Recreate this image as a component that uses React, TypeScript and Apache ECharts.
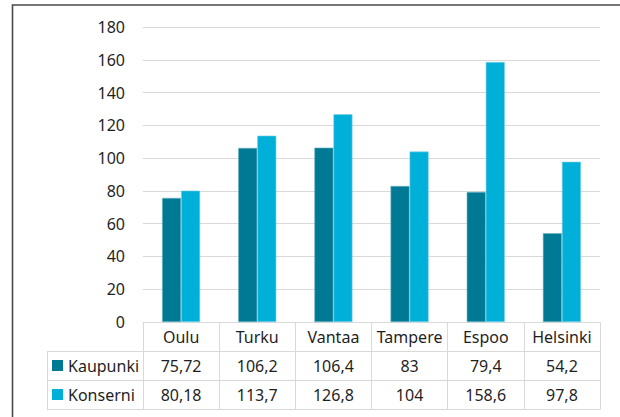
import React, { useEffect, useRef } from "react";
import * as echarts from "echarts";

const categories = ["Oulu", "Turku", "Vantaa", "Tampere", "Espoo", "Helsinki"];
const kaupunki = [75.72, 106.2, 106.4, 83, 79.4, 54.2];
const konserni = [80.18, 113.7, 126.8, 104, 158.6, 97.8];
const seriesNames = ["Kaupunki", "Konserni"];
const yMin = 0;
const yMax = 180;
const yStep = 20;

const fmt = (v: number) => String(v).replace(".", ",");

const FONT = "'Noto Sans', 'Open Sans', sans-serif";
const TEXT = "#1f1f1f";
const LINE = "#d9d9d9";
const DARK = "#007A94";
const LIGHT = "#00B0D8";
const FS = 16;

export default function App() {
  const ref = useRef<HTMLDivElement>(null);
  useEffect(() => {
    if (!ref.current) return;
    const chart = echarts.init(ref.current, undefined, { renderer: "svg" });
    const rowH = 29;
    const tableAxis = (offset: number, labels: string[] | null, showTick: boolean) => ({
      type: "category" as const,
      data: categories,
      position: "bottom" as const,
      offset,
      gridIndex: 0,
      axisLine: { show: true, lineStyle: { color: LINE, width: 1 } },
      axisTick: {
        show: showTick,
        interval: 0,
        alignWithLabel: false,
        length: rowH,
        lineStyle: { color: LINE, width: 1 },
      },
      axisLabel: {
        show: labels !== null,
        interval: 0,
        margin: 14.5,
        verticalAlign: "middle" as const,
        color: TEXT,
        fontSize: FS,
        fontFamily: FONT,
        formatter: (_v: string, i: number) => (labels ? labels[i] : ""),
      },
      splitLine: { show: false },
    });
    chart.setOption({
      animation: false,
      backgroundColor: "#ffffff",
      textStyle: { fontFamily: FONT },
      grid: { left: 143, right: 20, top: 27, bottom: 95, containLabel: false },
      legend: {
        orient: "vertical",
        left: 52,
        top: 356.5,
        padding: 0,
        itemWidth: 11,
        itemHeight: 11,
        itemGap: 11,
        icon: "rect",
        selectedMode: false,
        itemStyle: { borderWidth: 0 },
        textStyle: { color: TEXT, fontSize: FS, fontFamily: FONT, lineHeight: 18 },
        data: seriesNames,
      },
      xAxis: [
        tableAxis(0, categories, true),
        tableAxis(rowH, kaupunki.map(fmt), true),
        tableAxis(rowH * 2, konserni.map(fmt), true),
        tableAxis(rowH * 3, null, false),
      ],
      yAxis: {
        type: "value",
        min: yMin,
        max: yMax,
        interval: yStep,
        axisLine: { show: false },
        axisTick: { show: false },
        axisLabel: { color: TEXT, fontSize: FS, fontFamily: FONT, margin: 18 },
        splitLine: { lineStyle: { color: LINE, width: 1 } },
      },
      series: [
        {
          name: seriesNames[0],
          type: "bar",
          xAxisIndex: 0,
          data: kaupunki,
          barGap: "0%",
          barCategoryGap: "50%",
          itemStyle: { color: DARK, borderColor: "#6fb3c4", borderWidth: 0.6 },
        },
        {
          name: seriesNames[1],
          type: "bar",
          xAxisIndex: 0,
          data: konserni,
          barGap: "0%",
          barCategoryGap: "50%",
          itemStyle: { color: LIGHT, borderColor: "#7fd0e6", borderWidth: 0.6 },
        },
      ],
      graphic: [
        {
          type: "polyline",
          silent: true,
          shape: { points: [[12.5, 420], [12.5, 5], [625, 5]] },
          style: { stroke: "#4a4a4a", lineWidth: 1.6, fill: "none" },
        },
        {
          type: "line",
          silent: true,
          shape: { x1: 47, y1: 351.5, x2: 143, y2: 351.5 },
          style: { stroke: LINE, lineWidth: 1 },
        },
        {
          type: "line",
          silent: true,
          shape: { x1: 47, y1: 380.5, x2: 143, y2: 380.5 },
          style: { stroke: LINE, lineWidth: 1 },
        },
        {
          type: "line",
          silent: true,
          shape: { x1: 47, y1: 409.5, x2: 143, y2: 409.5 },
          style: { stroke: LINE, lineWidth: 1 },
        },
        {
          type: "line",
          silent: true,
          shape: { x1: 47.5, y1: 351, x2: 47.5, y2: 410 },
          style: { stroke: LINE, lineWidth: 1 },
        },
      ],
    });
    return () => chart.dispose();
  }, []);
  return (
    <div
      ref={ref}
      style={{ position: "absolute", left: 0, top: 0, width: 620, height: 417 }}
    />
  );
}
